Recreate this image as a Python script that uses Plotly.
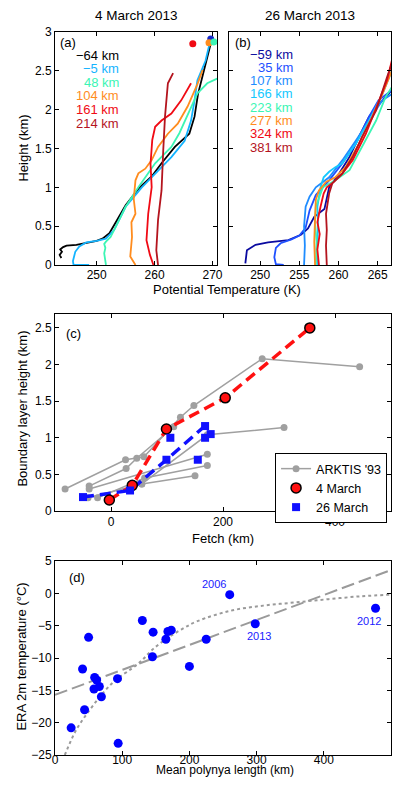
import plotly.graph_objects as go

# ---------------- (a) 4 March 2013 profiles ----------------
mar4_labels = ["−64 km", "−5 km", "48 km", "104 km", "161 km", "214 km"]
mar4_colors = ["#000000", "#14B4FF", "#3CF5B4", "#FF8C1E", "#F00A14", "#B4141E"]
mar4_theta = [
    [243.9, 243.6, 244.0, 243.7, 244.2, 244.8, 246.5, 248.2, 250.0, 251.0, 252.2, 253.3, 255.0, 257.3, 259.5,
     261.2, 263.5, 266.0, 266.9, 267.5, 268.3, 269.1, 269.8],
    [248.7, 246.0, 245.9, 246.3, 247.0, 248.2, 250.0, 251.6, 253.0, 255.0, 257.8, 260.1, 262.9, 265.2, 266.3,
     266.9, 267.4, 268.8, 269.6],
    [251.6, 251.3, 251.5, 251.3, 251.6, 252.4, 253.0, 255.0, 257.2, 260.1, 262.9, 264.3, 266.3, 267.4, 269.1, 270.8],
    [256.7, 255.8, 256.1, 256.0, 256.7, 256.4, 256.7, 257.2, 258.4, 259.5, 260.6, 262.3, 264.0, 265.7, 267.4, 268.3],
    [259.8, 259.2, 258.6, 258.9, 259.5, 259.3, 259.6, 260.1, 261.2, 262.9, 264.6, 266.0, 266.3],
    [260.6, 260.3, 260.6, 261.2, 261.5, 261.8, 262.3, 263.2],
]
mar4_z = [
    [0.09, 0.13, 0.17, 0.20, 0.23, 0.25, 0.26, 0.28, 0.31, 0.34, 0.41, 0.55, 0.77, 0.99, 1.14,
     1.31, 1.52, 1.69, 1.91, 2.20, 2.44, 2.65, 2.88],
    [0.0, 0.0, 0.05, 0.17, 0.24, 0.29, 0.31, 0.34, 0.45, 0.75, 1.00, 1.18, 1.39, 1.60, 1.86,
     2.12, 2.38, 2.63, 2.88],
    [0.0, 0.15, 0.22, 0.27, 0.30, 0.36, 0.45, 0.75, 1.00, 1.31, 1.52, 1.70, 2.03, 2.21, 2.34, 2.40],
    [0.0, 0.11, 0.36, 0.55, 0.66, 0.85, 1.09, 1.18, 1.24, 1.35, 1.52, 1.69, 1.82, 2.04, 2.33, 2.51],
    [0.0, 0.13, 0.32, 0.66, 1.00, 1.30, 1.61, 1.78, 1.86, 1.95, 2.12, 2.29, 2.34],
    [0.0, 0.19, 0.58, 0.96, 1.48, 1.91, 2.34, 2.47],
]
mar4_top_theta = [269.7, 266.6, 269.4, 270.25]
mar4_top_z = [2.91, 2.85, 2.86, 2.87]
mar4_top_colors = ["#1428C8", "#F00A14", "#FF8C1E", "#3CF5B4"]

# ---------------- (b) 26 March 2013 profiles ----------------
mar26_labels = ["−59 km", "35 km", "107 km", "166 km", "223 km", "277 km", "324 km", "381 km"]
mar26_colors = ["#0A0AA0", "#1E50FF", "#1E8CFF", "#14C8FF", "#3CF5B4", "#FF8C1E", "#F00A14", "#B4141E"]
mar26_theta = [
    [248.1, 248.3, 249.4, 251.0, 253.6, 255.2, 256.1, 256.9, 258.2, 258.8, 260.1, 261.4, 262.6, 263.9, 264.9,
     266.0, 266.8],
    [253.0, 252.0, 251.8, 252.0, 252.6, 254.0, 255.0, 255.8, 256.3, 257.1, 258.8, 260.5, 262.2, 263.9, 265.1, 266.8],
    [255.6, 255.7, 255.6, 255.8, 256.3, 257.1, 258.8, 260.5, 262.2, 263.9, 265.6, 266.8],
    [257.3, 257.2, 257.4, 257.3, 257.7, 258.1, 258.8, 259.6, 260.5, 262.2, 263.9, 265.6, 266.8],
    [257.1, 257.2, 257.0, 257.1, 258.0, 259.6, 261.4, 263.0, 264.8, 266.0, 266.8],
    [257.0, 256.9, 257.0, 257.1, 257.5, 258.4, 259.6, 260.9, 262.6, 264.3, 265.6, 266.8],
    [257.5, 257.3, 257.6, 257.3, 257.7, 258.1, 258.5, 259.4, 260.5, 261.8, 263.5, 264.9, 266.2, 266.8],
    [258.5, 258.4, 258.5, 258.4, 258.8, 259.2, 260.5, 261.8, 263.0, 264.8, 266.2, 266.8],
]
mar26_z = [
    [0.02, 0.19, 0.26, 0.29, 0.32, 0.39, 0.47, 0.62, 0.72, 1.00, 1.18, 1.39, 1.65, 1.91, 2.04, 2.16, 2.25],
    [0.0, 0.01, 0.10, 0.22, 0.28, 0.33, 0.38, 0.48, 0.70, 0.90, 1.09, 1.31, 1.56, 1.91, 2.12, 2.25],
    [0.0, 0.25, 0.50, 0.75, 0.88, 1.00, 1.13, 1.35, 1.60, 1.86, 2.12, 2.20],
    [0.0, 0.20, 0.50, 0.75, 1.00, 1.13, 1.20, 1.26, 1.31, 1.56, 1.86, 2.20, 2.50],
    [0.0, 0.30, 0.55, 0.75, 1.00, 1.09, 1.22, 1.52, 1.86, 2.16, 2.29],
    [0.0, 0.30, 0.60, 0.84, 0.96, 1.07, 1.13, 1.26, 1.56, 1.91, 2.20, 2.50],
    [0.0, 0.20, 0.40, 0.55, 0.75, 0.92, 1.00, 1.07, 1.18, 1.35, 1.69, 2.04, 2.38, 2.63],
    [0.0, 0.25, 0.45, 0.66, 0.92, 1.05, 1.18, 1.39, 1.65, 1.99, 2.42, 2.59],
]

# ---------------- (c) boundary layer height vs fetch ----------------
arktis_fetch = [
    [-82, 26, 59, 124, 148, 270, 444],
    [-39, 27, 46, 112],
    [-41, 55, 150],
    [-24, 60, 172],
    [-39, 172],
    [55, 172, 309],
]
arktis_height = [
    [0.30, 0.70, 0.74, 1.28, 1.44, 2.08, 1.97],
    [0.34, 0.58, 0.72, 1.15],
    [0.18, 0.37, 0.48],
    [0.18, 0.45, 0.62],
    [0.30, 0.775],
    [0.37, 1.04, 1.14],
]
mar4_fetch = [-3, 38, 99, 204, 355]
mar4_blh = [0.15, 0.35, 1.12, 1.545, 2.50]
mar26_fetch = [-50, 34, 99, 106, 155, 168, 168, 178]
mar26_blh = [0.19, 0.28, 0.70, 1.00, 0.70, 1.16, 1.00, 1.05]
mar26_line_fetch = [-50, 34, 99, 169]
mar26_line_blh = [0.19, 0.28, 0.70, 1.17]

# ---------------- (d) ERA 2m temperature vs polynya length ----------------
polynya_len = [24, 41, 44, 50, 59, 62, 58, 66, 69, 93, 94, 130, 145, 146, 165, 168, 173, 200, 225, 260, 298, 477]
era_t2m = [-20.8, -11.7, -18.0, -6.8, -13.0, -13.4, -14.8, -14.4, -16.0, -13.2, -23.2, -4.2, -9.8, -6.0,
           -7.1, -5.9, -5.7, -11.3, -7.1, -0.2, -4.7, -2.3]
year_labels = ["2006", "2013", "2012"]
year_len = [237, 303, 467]
year_t2m = [1.5, -6.6, -4.3]
fit_len = [0, 500]
fit_t2m = [-15.7, 3.6]
curve_len = [14.6, 31.7, 51.2, 70.7, 90.2, 114.6, 130, 143.9, 163.4, 187.8, 212, 261, 310, 358, 407, 456, 500]
curve_t2m = [-25.0, -21.1, -18.1, -15.5, -13.4, -11.6, -10.3, -8.8, -7.2, -5.6, -4.3, -2.7, -1.9, -1.4,
             -0.9, -0.45, -0.2]

FONT = "Liberation Sans, Arial, sans-serif"
# page body adds 8px around the figure
OFF = 8
W, H = 409 - 2 * OFF, 787 - 2 * OFF
ML, MR, MT, MB = 55 - OFF, 12 - OFF, 32 - OFF, 32 - OFF


def px_x(p):
    return (p - OFF - ML) / (W - ML - MR)


def px_y(p):
    return (H - MB - (p - OFF)) / (H - MT - MB)


fig = go.Figure()

for th, z, c in zip(mar4_theta, mar4_z, mar4_colors):
    fig.add_trace(go.Scatter(x=th, y=z, mode="lines", line=dict(color=c, width=1.8),
                             xaxis="x", yaxis="y", showlegend=False))
fig.add_trace(go.Scatter(x=mar4_top_theta, y=mar4_top_z, mode="markers",
                         marker=dict(color=mar4_top_colors, size=7), xaxis="x", yaxis="y", showlegend=False))

for th, z, c in zip(mar26_theta, mar26_z, mar26_colors):
    fig.add_trace(go.Scatter(x=th, y=z, mode="lines", line=dict(color=c, width=1.8),
                             xaxis="x2", yaxis="y2", showlegend=False))

# ARKTIS '93 segments joined with gaps
ak_x, ak_y = [], []
for fx, fy in zip(arktis_fetch, arktis_height):
    ak_x += fx + [None]
    ak_y += fy + [None]
fig.add_trace(go.Scatter(x=ak_x, y=ak_y, mode="lines+markers", name="ARKTIS '93",
                         line=dict(color="#A0A0A0", width=1.5), marker=dict(color="#A0A0A0", size=7),
                         connectgaps=False, xaxis="x3", yaxis="y3"))
fig.add_trace(go.Scatter(x=mar4_fetch, y=mar4_blh, mode="lines", showlegend=False,
                         line=dict(color="#FF1010", width=3.5, dash="11px,6px"), xaxis="x3", yaxis="y3"))
fig.add_trace(go.Scatter(x=mar26_line_fetch, y=mar26_line_blh, mode="lines", showlegend=False,
                         line=dict(color="#1010FF", width=3.5, dash="11px,6px"), xaxis="x3", yaxis="y3"))
fig.add_trace(go.Scatter(x=mar4_fetch, y=mar4_blh, mode="markers", name="4 March",
                         marker=dict(color="#FF1010", size=10, line=dict(color="black", width=1.5)),
                         xaxis="x3", yaxis="y3"))
fig.add_trace(go.Scatter(x=mar26_fetch, y=mar26_blh, mode="markers", name="26 March",
                         marker=dict(color="#1010FF", size=8, symbol="square"), xaxis="x3", yaxis="y3"))

fig.add_trace(go.Scatter(x=fit_len, y=fit_t2m, mode="lines", showlegend=False,
                         line=dict(color="#9A9A9A", width=2, dash="13px,5px"), xaxis="x4", yaxis="y4"))
fig.add_trace(go.Scatter(x=curve_len, y=curve_t2m, mode="lines", showlegend=False, line_shape="spline",
                         line=dict(color="#9A9A9A", width=2, dash="dot"), xaxis="x4", yaxis="y4"))
fig.add_trace(go.Scatter(x=polynya_len, y=era_t2m, mode="markers", showlegend=False,
                         marker=dict(color="#0000FF", size=9), xaxis="x4", yaxis="y4"))

axis_style = dict(showline=True, linecolor="black", linewidth=1, mirror="ticks", ticks="inside",
                  ticklen=4, tickcolor="black", showgrid=False, zeroline=False,
                  tickfont=dict(size=12, color="black", family=FONT))

top_dom = [px_y(265), px_y(32)]
fig.update_layout(
    width=W, height=H, autosize=False,
    margin=dict(l=ML, r=MR, t=MT, b=MB),
    paper_bgcolor="white", plot_bgcolor="white",
    font=dict(family=FONT, size=13, color="black"),
    xaxis=dict(axis_style, domain=[0, px_x(220)], range=[242.8, 270.8], tickvals=[250, 260, 270], anchor="y",
               ticklabelstandoff=-1),
    yaxis=dict(axis_style, domain=top_dom, range=[0, 3], dtick=0.5, anchor="x"),
    xaxis2=dict(axis_style, domain=[px_x(232), 1], range=[246, 266.7], tickvals=[250, 255, 260, 265],
                anchor="y2", ticklabelstandoff=-1),
    yaxis2=dict(axis_style, domain=top_dom, range=[0, 3], dtick=0.5, showticklabels=False, anchor="x2"),
    xaxis3=dict(axis_style, domain=[0, 1], range=[-100, 500], tickvals=[0, 200, 400], anchor="y3"),
    yaxis3=dict(axis_style, domain=[px_y(511), px_y(314)], range=[0, 2.69], dtick=0.5, anchor="x3"),
    xaxis4=dict(axis_style, domain=[0, 1], range=[0, 500], dtick=100, anchor="y4", ticklabelstandoff=-6),
    yaxis4=dict(axis_style, domain=[px_y(755), px_y(561)], range=[-25, 5], dtick=5, anchor="x4"),
    legend=dict(x=px_x(279), y=px_y(453), xanchor="left", yanchor="top", bgcolor="white",
                bordercolor="black", borderwidth=1, font=dict(size=12.5, family=FONT),
                itemwidth=30, tracegroupgap=0),
)

ann = []


def txt(x, y, s, size=13, color="black", xanchor="center", angle=0, yanchor="middle"):
    ann.append(dict(x=x, y=y, xref="paper", yref="paper", text=s, showarrow=False,
                    font=dict(size=size, color=color, family=FONT), xanchor=xanchor,
                    yanchor=yanchor, textangle=angle))


txt(px_x(137.5), px_y(15), "4 March 2013", size=13.5)
txt(px_x(314.5), px_y(15), "26 March 2013", size=13.5)
txt(px_x(230), px_y(290), "Potential Temperature (K)")
txt(px_x(22), px_y(148), "Height (km)", angle=-90)
txt(px_x(68), px_y(43), "(a)")
txt(px_x(246), px_y(43), "(b)")
for i, (lab, c) in enumerate(zip(mar4_labels, mar4_colors)):
    txt(px_x(122), px_y(55 + 13.6 * i), lab, color=c, xanchor="right")
for i, (lab, c) in enumerate(zip(mar26_labels, mar26_colors)):
    txt(px_x(299.5), px_y(54 + 13.3 * i), lab, color=c, xanchor="right")

txt(px_x(74), px_y(333), "(c)")
txt(px_x(226), px_y(538), "Fetch (km)")
txt(px_x(22), px_y(409), "Boundary layer height (km)", angle=-90)

txt(px_x(77), px_y(577), "(d)")
txt(px_x(228), px_y(H + OFF), "Mean polynya length (km)", size=12, yanchor="bottom")
txt(px_x(20), px_y(657), "ERA 2m temperature (°C)", angle=-90)
for lab, lx, ly in zip(year_labels, year_len, year_t2m):
    ann.append(dict(x=lx, y=ly, xref="x4", yref="y4", text=lab, showarrow=False,
                    font=dict(size=11, color="#2020FF", family=FONT)))

fig.update_layout(annotations=ann)
fig.write_html("out.html")
